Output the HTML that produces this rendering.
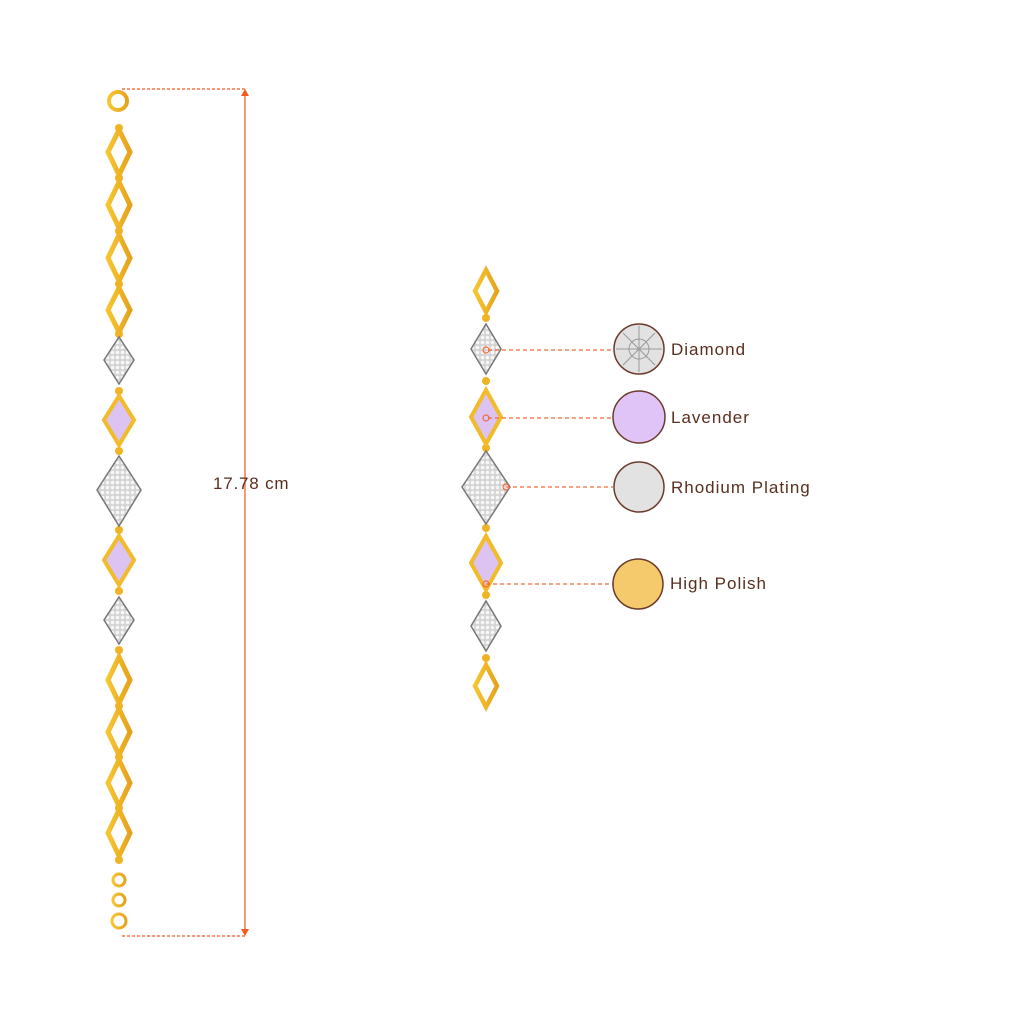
<!DOCTYPE html><html><head><style>body{margin:0;background:#fff}svg{display:block}text{font-family:"Liberation Sans",sans-serif}</style></head><body>
<svg width="1024" height="1024" viewBox="0 0 1024 1024">
<defs>
<linearGradient id="g" x1="0" x2="1"><stop offset="0" stop-color="#f7c531"/><stop offset="1" stop-color="#e5a31c"/></linearGradient>
<pattern id="pv" width="5" height="5" patternUnits="userSpaceOnUse"><rect width="5" height="5" fill="#d4d4d4"/><circle cx="2.5" cy="2.5" r="1.8" fill="#f8f8f8"/></pattern>
</defs>
<g fill="none" stroke="url(#g)">
<circle cx="118" cy="101" r="9" stroke-width="4"/>
<g stroke-width="5">
<path d="M119 130 L130 152 L119 175 L108 152Z"/><path d="M119 182 L130 205 L119 228 L108 205Z"/>
<path d="M119 235 L130 258 L119 281 L108 258Z"/><path d="M119 288 L130 310 L119 332 L108 310Z"/>
<path d="M119 657 L130 680 L119 703 L108 680Z"/><path d="M119 709 L130 732 L119 755 L108 732Z"/>
<path d="M119 760 L130 783 L119 806 L108 783Z"/><path d="M119 810 L130 833 L119 856 L108 833Z"/>
</g>
<g stroke-width="3"><circle cx="119" cy="880" r="6"/><circle cx="119" cy="900" r="6"/><circle cx="119" cy="921" r="7"/></g>
<g stroke-width="4.5">
<path d="M486 270 L497 291 L486 312 L475 291Z"/><path d="M486 665 L497 686 L486 707 L475 686Z"/>
</g>
<path d="M486 260 V268 M486 710 V718" stroke-width="2"/>
</g>
<g fill="#f0b323">
<circle cx="119" cy="128" r="4"/><circle cx="119" cy="178" r="4"/><circle cx="119" cy="231" r="4"/><circle cx="119" cy="284" r="4"/><circle cx="119" cy="334" r="4"/>
<circle cx="119" cy="391" r="4"/><circle cx="119" cy="451" r="4"/><circle cx="119" cy="530" r="4"/><circle cx="119" cy="591" r="4"/><circle cx="119" cy="650" r="4"/><circle cx="119" cy="706" r="4"/><circle cx="119" cy="757" r="4"/><circle cx="119" cy="808" r="4"/><circle cx="119" cy="860" r="4"/>
<circle cx="486" cy="318" r="4"/><circle cx="486" cy="381" r="4"/><circle cx="486" cy="448" r="4"/><circle cx="486" cy="528" r="4"/><circle cx="486" cy="595" r="4"/><circle cx="486" cy="658" r="4"/>
</g>
<g fill="url(#pv)" stroke="#777" stroke-width="1.5">
<path d="M119 337 L134 360 L119 384 L104 360Z"/><path d="M119 456 L141 490 L119 526 L97 490Z"/><path d="M119 597 L134 620 L119 644 L104 620Z"/>
<path d="M486 324 L501 349 L486 374 L471 349Z"/><path d="M486 451 L510 487 L486 524 L462 487Z"/><path d="M486 601 L501 626 L486 651 L471 626Z"/>
</g>
<g fill="#dcc3f2" stroke="#f2bb2a" stroke-width="4">
<path d="M119 396 L134 420 L119 445 L104 420Z"/><path d="M119 536 L134 560 L119 585 L104 560Z"/>
<path d="M486 390 L501 417 L486 444 L471 417Z"/><path d="M486 536 L501 563 L486 590 L471 563Z"/>
</g>
<g stroke="#f25a1e" stroke-width="1.2">
<path d="M122 89 H245 M122 936 H245" stroke-dasharray="3 2"/>
<path d="M245 93 V932"/>
</g>
<path d="M241 96 L245 89 L249 96Z M241 929 L245 936 L249 929Z" fill="#f25a1e"/>
<text x="213" y="489" font-size="17" letter-spacing="0.8" fill="#5a2e1e">17.78 cm</text>
<g stroke="#f26a3b" stroke-width="1.2" stroke-dasharray="4 3">
<path d="M488 350 H613 M488 418 H613 M506 487 H613 M486 584 H613"/>
</g>
<g fill="none" stroke="#f26a3b" stroke-width="1.2"><circle cx="486" cy="350" r="3"/><circle cx="486" cy="418" r="3"/><circle cx="506" cy="487" r="3"/><circle cx="486" cy="584" r="3"/></g>
<g stroke="#6b3a2a" stroke-width="1.5">
<circle cx="639" cy="349" r="25" fill="#e2e2e2"/>
<circle cx="639" cy="417" r="26" fill="#e0c4f7"/>
<circle cx="639" cy="487" r="25" fill="#e2e2e2"/>
<circle cx="638" cy="584" r="25" fill="#f5ca6c"/>
</g>
<g stroke="#999" stroke-width="1" fill="none"><path d="M639 326 L639 372 M616 349 L662 349 M623 333 L655 365 M655 333 L623 365"/><circle cx="639" cy="349" r="10"/></g>
<g font-size="17" fill="#5a2e1e" letter-spacing="1">
<text x="671" y="355">Diamond</text><text x="671" y="423">Lavender</text><text x="671" y="493">Rhodium Plating</text><text x="670" y="589">High Polish</text>
</g>
</svg></body></html>
